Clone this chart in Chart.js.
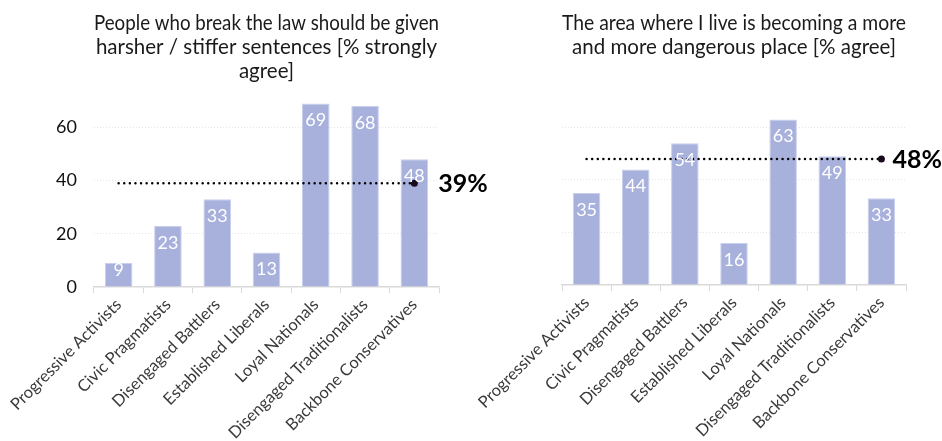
<!DOCTYPE html>
<html>
<head>
<meta charset="utf-8">
<script src="https://cdn.jsdelivr.net/npm/chart.js@4.4.1/dist/chart.umd.min.js"></script>
<style>
  html, body { margin: 0; padding: 0; background: #fff; }
  #wrap { position: relative; width: 942px; height: 441px; overflow: hidden; }
  .box { position: absolute; top: 0; height: 441px; }
  #b1 { left: 0; width: 520px; }
  #b2 { left: 470px; width: 472px; }
</style>
</head>
<body>
<div id="wrap">
  <div class="box" id="b1"><canvas id="c1"></canvas></div>
  <div class="box" id="b2"><canvas id="c2"></canvas></div>
</div>
<script>
// Segments shown on the x axis
const segments = [
  'Progressive Activists', 'Civic Pragmatists', 'Disengaged Battlers',
  'Established Liberals', 'Loyal Nationals', 'Disengaged Traditionalists',
  'Backbone Conservatives'
];

// % strongly agree: harsher / stiffer sentences
const sentenceValues = [9, 23, 33, 13, 69, 68, 48];
const sentenceAverage = 39;

// % agree: area becoming more dangerous
const dangerValues = [35, 44, 54, 16, 63, 49, 33];
const dangerAverage = 48;

const yTicks = [0, 20, 40, 60];

const titles = [
  ['People who break the law should be given', 'harsher / stiffer sentences [% strongly', 'agree]'],
  ['The area where I live is becoming a more', 'and more dangerous place [% agree]']
];

const FONT = 'Lato, "Open Sans", sans-serif';
const BAR = '#a7b1dc';
const BAR_EDGE = '#c9cfee';

// White value labels inside the top of each bar
const barValueLabels = {
  id: 'barValueLabels',
  afterDatasetsDraw(chart) {
    const meta = chart.getDatasetMeta(0);
    const ctx = chart.ctx;
    ctx.save();
    ctx.fillStyle = '#ffffff';
    ctx.font = '18px ' + FONT;
    ctx.textAlign = 'center';
    ctx.textBaseline = 'middle';
    meta.data.forEach((bar, i) => {
      const v = chart.data.datasets[0].data[i];
      const h = bar.base - bar.y;
      const y = bar.y + Math.min(17, h - 16);
      ctx.fillText(String(v), bar.x, y);
    });
    ctx.restore();
  }
};

// Bold average label beside the end marker of the reference line
const averageLabel = {
  id: 'averageLabel',
  afterDatasetsDraw(chart, args, opts) {
    const meta = chart.getDatasetMeta(1);
    const last = meta.data[meta.data.length - 1];
    const v = chart.data.datasets[1].data[0];
    const ctx = chart.ctx;
    ctx.save();
    ctx.fillStyle = '#000';
    ctx.font = 'bold 25px ' + FONT;
    ctx.textAlign = 'left';
    ctx.textBaseline = 'middle';
    ctx.fillText(v + '%', last.x + opts.gap, last.y + 1);
    ctx.restore();
  }
};

function makeChart(id, values, average, title, showY, leftWidth, rightPad, titleGap, axisHeight, labelGap) {
  const avgLine = segments.map(() => average);
  return new Chart(document.getElementById(id), {
    type: 'bar',
    data: {
      labels: segments,
      datasets: [
        {
          type: 'bar',
          data: values,
          backgroundColor: BAR,
          borderColor: BAR_EDGE,
          borderWidth: 1,
          categoryPercentage: 0.56,
          barPercentage: 1,
          order: 2
        },
        {
          type: 'line',
          data: avgLine,
          borderColor: '#000',
          borderWidth: 2.5,
          borderDash: [0, 5.6],
          borderCapStyle: 'round',
          fill: false,
          pointRadius: avgLine.map((_, i) => i === avgLine.length - 1 ? 3.5 : 0),
          pointBackgroundColor: '#1a0a1e',
          pointBorderWidth: 0,
          order: 1
        }
      ]
    },
    options: {
      responsive: true,
      maintainAspectRatio: false,
      animation: false,
      events: [],
      layout: { padding: { top: 0, right: rightPad, left: 0, bottom: 0 } },
      plugins: {
        legend: { display: false },
        tooltip: { enabled: false },
        averageLabel: { gap: labelGap },
        title: {
          display: true,
          text: title,
          fullSize: false,
          color: '#1a1a1a',
          font: { family: FONT, size: 20.5, weight: 'normal', lineHeight: 1.15 },
          padding: { top: 12, bottom: titleGap }
        }
      },
      scales: {
        x: {
          grid: {
            display: true,
            drawOnChartArea: false,
            drawTicks: true,
            tickLength: 6,
            color: '#d9d9d9',
            offset: true
          },
          border: { display: true, color: '#d9d9d9', width: 1.5 },
          ticks: {
            color: '#3a3a3a',
            font: { family: FONT, size: 16.5 },
            minRotation: 45,
            maxRotation: 45,
            autoSkip: false,
            padding: 2
          },
          afterFit(scale) { scale.height = axisHeight; }
        },
        y: {
          min: 0,
          max: 70,
          afterBuildTicks(scale) { scale.ticks = yTicks.map(v => ({ value: v })); },
          grid: {
            color: (c) => c.tick && c.tick.value === 0 ? 'rgba(0,0,0,0)' : '#e4e4e4',
            lineWidth: 1,
            drawTicks: false
          },
          border: { display: false, dash: [1, 2] },
          ticks: {
            display: showY,
            color: '#111',
            font: { family: FONT, size: 18 },
            padding: 17
          },
          afterFit(scale) { scale.width = leftWidth; }
        }
      }
    },
    plugins: [barValueLabels, averageLabel]
  });
}

makeChart('c1', sentenceValues, sentenceAverage, titles[0], true, 94, 81, 18, 154, 24);
makeChart('c2', dangerValues, dangerAverage, titles[1], false, 92, 36, 42, 156, 11);
</script>
</body>
</html>
